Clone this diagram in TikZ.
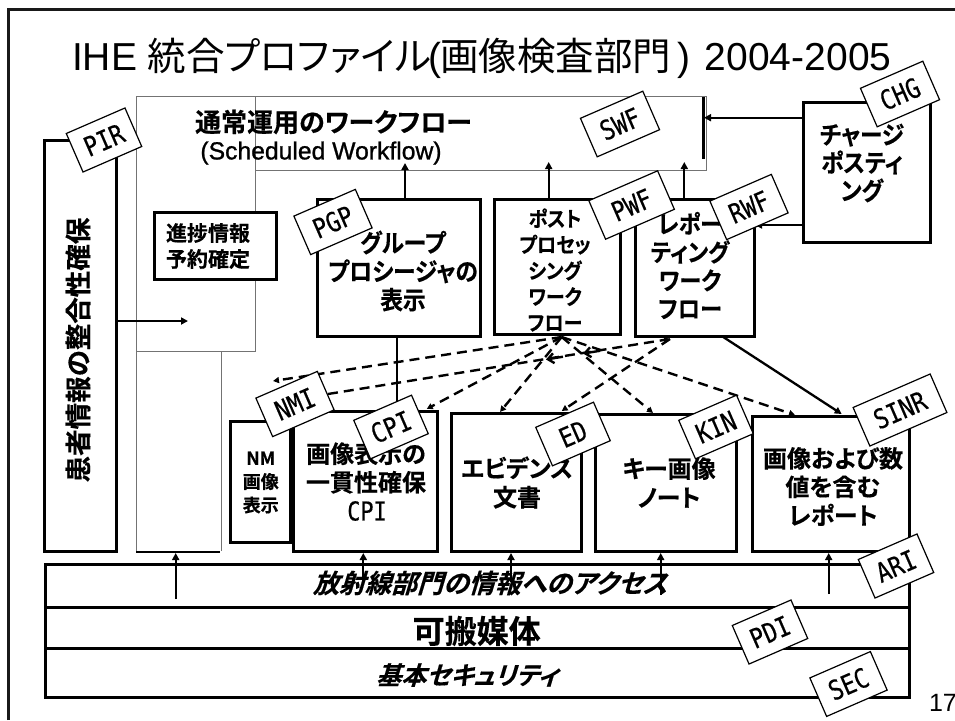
\documentclass[tikz,border=0pt]{standalone}
\usepackage{fontspec}
\usetikzlibrary{arrows.meta}
\setmainfont{Liberation Sans}
\newfontfamily\cjk[RawFeature=+palt]{Noto Sans CJK JP}
\newfontfamily\cjkb[RawFeature=+palt,FakeBold=0.4]{Noto Sans CJK JP Bold}
\newfontfamily\cjkn[RawFeature=+palt,FakeBold=0.4,FakeStretch=0.91]{Noto Sans CJK JP Bold}
\newfontfamily\cjki[RawFeature=+palt,FakeSlant=0.3,FakeBold=0.4]{Noto Sans CJK JP Bold}
\newfontfamily\tagfont[FakeStretch=0.84,FakeBold=0.35]{DejaVu Sans Mono}
\newfontfamily\fakeb[FakeBold=1]{Liberation Sans}
\newcommand{\fs}[2]{\fontsize{#1}{#2}\selectfont}
\tikzset{
  box/.style={draw=black,line width=3pt,fill=white,inner sep=0pt,outer sep=0pt},
  txt/.style={inner sep=0pt,outer sep=0pt,align=center,text=black},
  tagbox/.style={draw=black,line width=1.2pt,fill=white,rotate=23.5,minimum height=42pt,inner sep=0pt,outer sep=0pt,font={\tagfont\fs{27}{27}}},
  greyline/.style={draw=black!55,line width=1pt},
  conn/.style={draw=black,line width=2.3pt,-{Triangle[length=7pt,width=7pt]}},
  plainconn/.style={draw=black,line width=2.3pt},
  dashconn/.style={draw=black,line width=2.4pt,dash pattern=on 10pt off 6pt,-{Triangle[length=6pt,width=6pt]}},
  barbconn/.style={draw=black,line width=2.4pt,-{Straight Barb[length=6pt,width=10pt]}},
}
\newcommand{\mybox}[5]{%
  \pgfmathsetmacro\myw{#4-#2}\pgfmathsetmacro\myh{#5-#3}%
  \pgfmathsetmacro\mycx{(#4+#2)/2}\pgfmathsetmacro\mycy{(#5+#3)/2}%
  \node[box,minimum width=\myw pt,minimum height=\myh pt] (#1) at (\mycx,\mycy) {};}
\begin{document}
\begin{tikzpicture}[x=1pt,y=-1pt]
\useasboundingbox (0,0) rectangle (955,720);
\fill[white] (0,0) rectangle (955,720);
% slide frame
\coordinate (fa) at (8.5,720);
\coordinate (fb) at (8.5,9.5);
\coordinate (fc) at (955,9.5);
\draw[line width=2.5pt,black!90] (fa) -- (fb) -- (fc);
% title
\node[txt,anchor=base west,font={\fs{39}{39}}] (title) at (72,70) {IHE {\cjk\fs{38.5}{38.5}統合プロファイル}\hspace{-3pt}(\hspace{-1pt}{\cjk\fs{38.5}{38.5}画像検査部門}\hspace{6pt}) \hspace{4pt}2004-2005};
% scheduled workflow outline
\draw[greyline] (136,551) -- (136,96) -- (706,96) -- (706,170.7) -- (255,170.7);
\draw[greyline] (255,96) -- (255,351.7) -- (136,351.7);
\draw[greyline] (221.7,351.7) -- (221.7,551);
\draw[line width=2pt,black] (136,551.7) -- (220,551.7);
% PIR box
\mybox{pirbox}{44.5}{140.5}{116.7}{551.7}
\node[txt,rotate=90,font={\cjkb\fs{26.5}{26.5}}] (pirtext) at (78,350) {患者情報の整合性確保};
% workflow box texts
\node[txt,font={\cjkb\fs{26}{26}}] (swftitle) at (333.5,122) {通常運用のワークフロー};
\node[txt,font={\fakeb\fs{24.7}{24.7}}] (swfsub) at (321,153) {(Scheduled Workflow)};
\coordinate (swfbar) at (703,97);
\coordinate (swfbarb) at (703,159);
\draw[line width=3pt,black] (swfbar) -- (swfbarb);
\mybox{progress}{154.3}{212.3}{276}{279.3}
\node[txt,font={\cjkb\fs{21}{26}}] (progresstext) at (208,246) {進捗情報\\予約確定};
% upper boxes
\mybox{group}{317}{199}{480.7}{336}
\mybox{post}{494.3}{199}{620.7}{334}
\mybox{report}{635}{199}{754}{336}
\mybox{charge}{803.7}{102.3}{930}{242}
\node[txt,font={\cjkn\fs{25}{28.5}}] (grouptext) at (403,271) {グループ\\プロシージャの\\表示};
\node[txt,font={\cjkn\fs{21}{26}}] (posttext) at (555,270) {ポスト\\プロセッ\\シング\\ワーク\\フロー};
\node[txt,font={\cjkn\fs{24.5}{28.3}}] (reporttext) at (690,265.5) {レポー\\ティング\\ワーク\\フロー};
\node[txt,font={\cjkn\fs{25}{28}}] (chargetext) at (862,163) {チャージ\\ポスティ\\ング};
% lower boxes
\mybox{nmbox}{230}{421}{290.7}{542}
\mybox{cpibox}{293.3}{411.7}{437.3}{551.7}
\mybox{edbox}{451}{413.3}{581}{551.7}
\mybox{kinbox}{595.7}{414}{736.7}{551.7}
\mybox{sinrbox}{752.7}{416}{909}{551.7}
\node[txt,font={\cjkb\fs{18}{23.5}}] (nmtext) at (260.7,482.5) {NM\\画像\\表示};
\node[txt,font={\cjkb\fs{24}{28.5}}] (cpitext) at (366,468) {画像表示の\\一貫性確保};
\node[txt,font={\tagfont\fs{26}{26}}] (cpilabel) at (367,511) {CPI};
\node[txt,font={\cjkb\fs{24}{29}}] (edtext) at (517,482.5) {エビデンス\\文書};
\node[txt,font={\cjkb\fs{24}{29}}] (kintext) at (669,482.5) {キー画像\\ノート};
\node[txt,font={\cjkb\fs{24}{28.5}}] (sinrtext) at (833,486.5) {画像および数\\値を含む\\レポート};
% bottom bars
\mybox{aribar}{45.3}{564}{909}{607.3}
\mybox{pdibar}{45.3}{607.3}{909}{648.7}
\mybox{secbar}{45.3}{648.7}{909}{697.3}
\draw[line width=3.5pt,black] (aribar.south west) -- (aribar.south east);
\node[txt,font={\cjki\fs{26}{26}}] (aritext) at (490,583) {放射線部門の情報へのアクセス};
\node[txt,font={\cjkb\fs{32}{32}}] (pditext) at (476.7,631) {可搬媒体};
\node[txt,font={\cjki\fs{25}{25}}] (sectext) at (467,675) {基本セキュリティ};
\node[txt,anchor=base west,font={\fs{25}{25}}] (pageno) at (929,711) {17};
% connector ends
\coordinate (a1s) at (405,199);   \coordinate (a1e) at (405,163);
\coordinate (a2s) at (548.7,199); \coordinate (a2e) at (548.7,162);
\coordinate (a3s) at (684.3,199); \coordinate (a3e) at (684.3,162);
\coordinate (c1s) at (803.7,117.7); \coordinate (c1e) at (704,117.7);
\coordinate (c2s) at (803.7,225); \coordinate (c2e) at (755,225);
\coordinate (p1s) at (116.7,321); \coordinate (p1e) at (188,321);
\coordinate (b1s) at (175.7,599); \coordinate (b1e) at (175.7,553);
\coordinate (b2s) at (363.3,582); \coordinate (b2e) at (363.3,553);
\coordinate (b3s) at (511,582);   \coordinate (b3e) at (511,553);
\coordinate (b4s) at (660.7,595); \coordinate (b4e) at (660.7,553);
\coordinate (b5s) at (828.7,594); \coordinate (b5e) at (828.7,553);
\coordinate (gs) at (396.7,336);  \coordinate (ge) at (396.7,411);
\coordinate (rs) at (721.7,336);  \coordinate (re) at (841.7,414);
\coordinate (hub) at (561.7,337);
\coordinate (dnm) at (273,381);
\coordinate (dcpi) at (426.7,409);
\coordinate (ded) at (500,412);
\coordinate (dkin) at (653,413);
\coordinate (dsinr) at (795,415);
\coordinate (drep) at (670,339);
\coordinate (ded2) at (561.7,411);
\coordinate (dleft) at (328,394);
\coordinate (m1s) at (600,350.8); \coordinate (m1e) at (583,353.5);
\coordinate (m2s) at (563,356.7); \coordinate (m2e) at (546,359.5);
% connectors
\draw[conn] (a1s) -- (a1e);
\draw[conn] (a2s) -- (a2e);
\draw[conn] (a3s) -- (a3e);
\draw[conn] (c1s) -- (c1e);
\draw[conn] (c2s) -- (c2e);
\draw[conn] (p1s) -- (p1e);
\draw[conn] (b1s) -- (b1e);
\draw[conn] (b2s) -- (b2e);
\draw[conn] (b3s) -- (b3e);
\draw[conn] (b4s) -- (b4e);
\draw[conn] (b5s) -- (b5e);
\draw[plainconn] (gs) -- (ge);
\draw[conn] (rs) -- (re);
\draw[dashconn] (hub) -- (dnm);
\draw[dashconn] (hub) -- (dcpi);
\draw[dashconn] (hub) -- (ded);
\draw[dashconn] (hub) -- (dkin);
\draw[dashconn] (hub) -- (dsinr);
\draw[dashconn] (drep) -- (ded2);
\draw[dashconn] (dleft) -- (drep);
\draw[barbconn] (m1s) -- (m1e);
\draw[barbconn] (m2s) -- (m2e);
% tags
\node[tagbox,minimum width=64pt] (tpir) at (104,140) {PIR};
\node[tagbox,minimum width=68pt] (tswf) at (620,124) {SWF};
\node[tagbox,minimum width=68pt] (tchg) at (900,94) {CHG};
\node[tagbox,minimum width=75pt] (tpwf) at (631.6,205) {PWF};
\node[tagbox,minimum width=67pt] (trwf) at (749,207) {RWF};
\node[tagbox,minimum width=67pt] (tpgp) at (333,222) {PGP};
\node[tagbox,minimum width=67pt] (tnmi) at (295,404) {NMI};
\node[tagbox,minimum width=63pt] (tcpi) at (391,427) {CPI};
\node[tagbox,minimum width=63pt] (ted) at (573,434) {ED};
\node[tagbox,minimum width=63pt] (tkin) at (716,427) {KIN};
\node[tagbox,minimum width=84pt] (tsinr) at (900,410) {SINR};
\node[tagbox,minimum width=64pt] (tari) at (896,566) {ARI};
\node[tagbox,minimum width=64pt] (tpdi) at (770,632) {PDI};
\node[tagbox,minimum width=66pt] (tsec) at (848.5,684) {SEC};
\end{tikzpicture}
\end{document}
